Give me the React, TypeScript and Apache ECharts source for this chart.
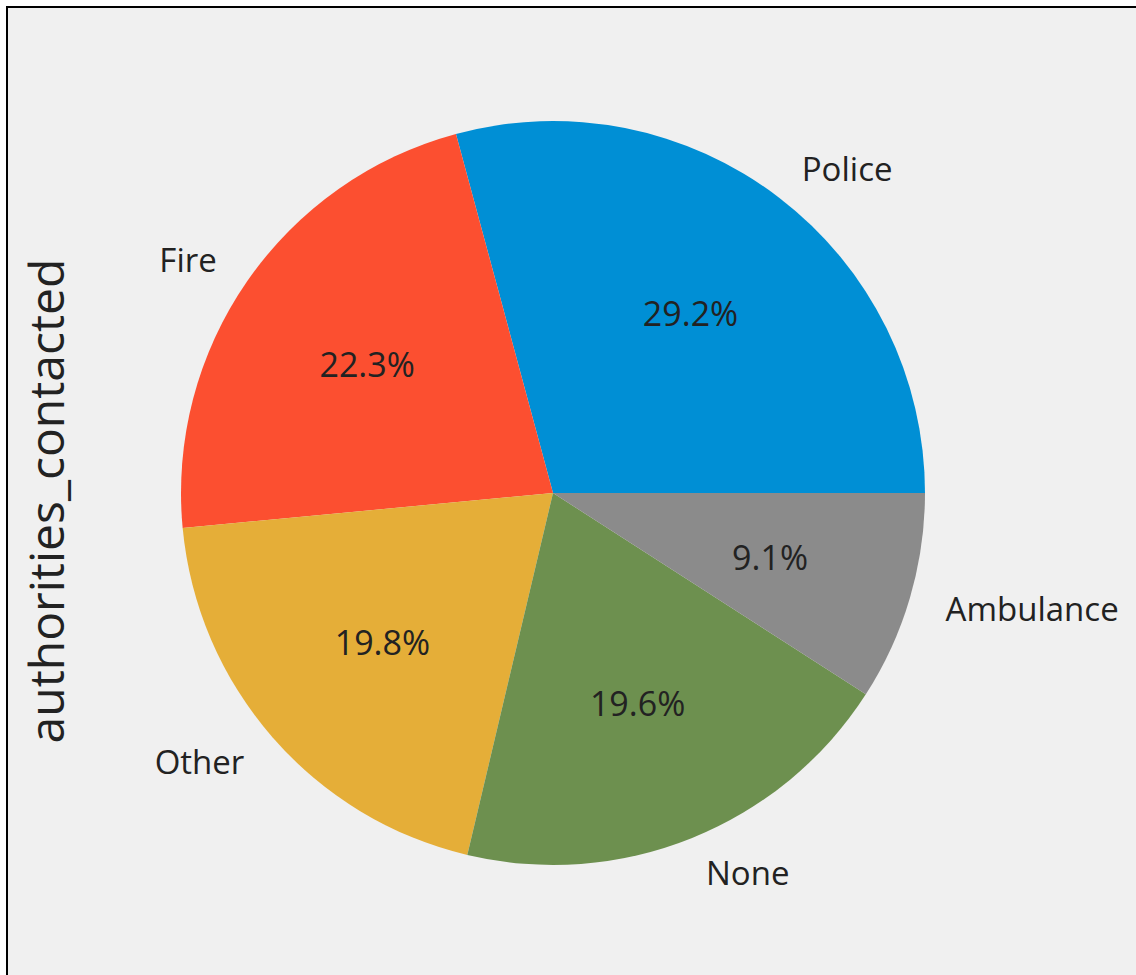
import React, { useEffect, useRef } from "react";
import * as echarts from "echarts";

const categories = ["Police", "Fire", "Other", "None", "Ambulance"];
const values = [29.2, 22.3, 19.8, 19.6, 9.1];
const colors = ["#008fd5", "#fc4f30", "#e5ae38", "#6d904f", "#8b8b8b"];
const yLabel = "authorities_contacted";

const CX = 553;
const CY = 493;
const R = 372;
const FONT = "'Open Sans', 'DejaVu Sans', sans-serif";

export default function App() {
  const ref = useRef<HTMLDivElement>(null);
  useEffect(() => {
    if (!ref.current) return;
    const chart = echarts.init(ref.current, undefined, { renderer: "svg" });
    const data = categories.map((name, i) => ({
      name,
      value: values[i],
      itemStyle: { color: colors[i] },
    }));
    chart.setOption({
      animation: false,
      backgroundColor: "transparent",
      graphic: [
        {
          type: "text",
          x: 45,
          y: 501,
          rotation: Math.PI / 2,
          style: {
            text: yLabel,
            font: `48px ${FONT}`,
            fill: "#222",
            align: "center",
            verticalAlign: "middle",
          },
        },
      ],
      series: [
        {
          type: "pie",
          center: [CX, CY],
          radius: [0, R],
          startAngle: 0,
          clockwise: false,
          avoidLabelOverlap: false,
          silent: true,
          data,
          itemStyle: { borderWidth: 0 },
          label: {
            show: true,
            position: "outside",
            formatter: "{b}",
            fontSize: 33,
            fontFamily: FONT,
            color: "#222",
            distanceToLabelLine: 0,
          },
          labelLine: { show: false, length: R * 0.1, length2: 0 },
          emphasis: { disabled: true },
        },
        {
          type: "pie",
          center: [CX, CY],
          radius: [R * 0.2, R],
          startAngle: 0,
          clockwise: false,
          avoidLabelOverlap: false,
          silent: true,
          data: categories.map((name, i) => ({ name, value: values[i] })),
          itemStyle: { color: "rgba(0,0,0,0)", borderWidth: 0 },
          label: {
            show: true,
            position: "inside",
            formatter: (p: any) => `${Number(p.value).toFixed(1)}%`,
            fontSize: 34,
            fontFamily: FONT,
            color: "#222",
          },
          labelLine: { show: false },
          emphasis: { disabled: true },
        },
      ],
    });
    return () => chart.dispose();
  }, []);
  return (
    <div
      style={{
        position: "fixed",
        left: 0,
        top: 0,
        width: 1136,
        height: 975,
        background: "#fff",
        overflow: "hidden",
      }}
    >
      <div
        style={{
          position: "absolute",
          left: 6,
          top: 6,
          width: 1140,
          height: 980,
          borderTop: "2px solid #000",
          borderLeft: "2px solid #000",
          background: "#f0f0f0",
        }}
      />
      <div
        ref={ref}
        style={{ position: "absolute", left: 0, top: 0, width: 1136, height: 975 }}
      />
    </div>
  );
}
